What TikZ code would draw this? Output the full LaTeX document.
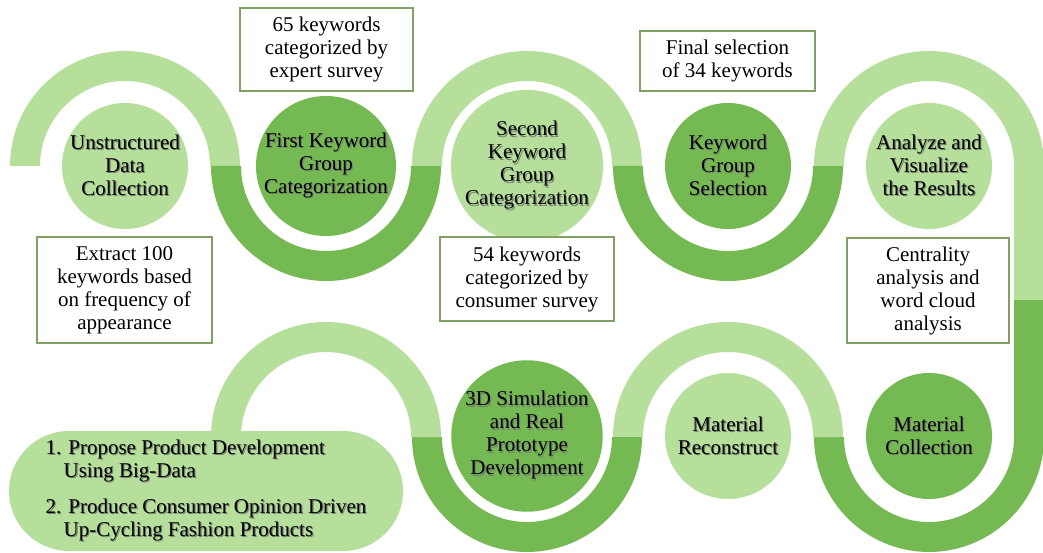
\documentclass[tikz,border=0pt]{standalone}
\usepackage{fontspec}
\setmainfont{Liberation Serif}
\definecolor{lightg}{RGB}{181,223,155}
\definecolor{darkg}{RGB}{117,185,82}
\definecolor{boxline}{RGB}{128,160,100}
\definecolor{txtshadow}{RGB}{60,75,50}
\newcommand\fs{\fontsize{21}{23}\selectfont}
% text with a soft drop shadow
\newcommand\sh[1]{\leavevmode\rlap{\kern1.2pt\raisebox{-1.2pt}{\color{txtshadow!70}#1}}#1}
% half rings of the path: centre x, centre y, colour
\newcommand\bandup[3]{\fill[#3] (#1-115,#2) arc[start angle=180,end angle=0,radius=115]
  -- (#1+85,#2) arc[start angle=0,end angle=180,radius=85] -- cycle;}
\newcommand\banddown[3]{\fill[#3] (#1-115,#2) arc[start angle=180,end angle=360,radius=115]
  -- (#1+85,#2) arc[start angle=360,end angle=180,radius=85] -- cycle;}
\tikzset{
  stage/.style={circle, minimum size=126pt, inner sep=0pt, align=center, font=\fs},
  lightstage/.style={stage, fill=lightg},
  darkstage/.style={stage, fill=darkg},
  note/.style={draw=boxline, line width=1.2pt, fill=white, align=center,
    inner sep=0pt, font=\fs},
  goalbox/.style={rectangle, rounded corners=60pt, fill=lightg, minimum width=394pt,
    minimum height=120pt, align=left, inner sep=0pt, font=\fs}
}
\begin{document}
\begin{tikzpicture}[x=1pt,y=1pt]
\useasboundingbox (0,0) rectangle (1043,552);
\begin{scope}
\clip (0,0) rectangle (1043,552);
% upper row of the winding path
\bandup{125}{386}{lightg}
\banddown{326}{386}{darkg}
\bandup{527}{386}{lightg}
\banddown{728}{386}{darkg}
\bandup{929}{386}{lightg}
% right-hand descent
\fill[lightg] (1014,386) rectangle (1044,252);
\fill[darkg] (1014,252) rectangle (1044,115);
% lower row, running back to the left
\banddown{929}{115}{darkg}
\bandup{728}{115}{lightg}
\banddown{527}{115}{darkg}
\bandup{326}{115}{lightg}
\end{scope}

% stages
\node[lightstage] (s1) at (125,386) {\sh{Unstructured}\\\sh{Data}\\\sh{Collection}};
\node[darkstage] (s2) at (326,386) {\sh{First Keyword}\\\sh{Group}\\\sh{Categorization}};
\node[lightstage] (s3) at (527,386) {\sh{Second}\\\sh{Keyword}\\\sh{Group}\\\sh{Categorization}};
\node[darkstage] (s4) at (728,386) {\sh{Keyword}\\\sh{Group}\\\sh{Selection}};
\node[lightstage] (s5) at (929,386) {\sh{Analyze and}\\\sh{Visualize}\\\sh{the Results}};
\node[darkstage] (s6) at (929,116) {\sh{Material}\\\sh{Collection}};
\node[lightstage] (s7) at (728,116) {\sh{Material}\\\sh{Reconstruct}};
\node[darkstage] (s8) at (527,116) {\sh{3D Simulation}\\\sh{and Real}\\\sh{Prototype}\\\sh{Development}};

% outcome
\node[goalbox] (goal) at (206,61) {\sh{1. Propose Product Development}\\
  \hspace*{18pt}\sh{Using Big-Data}\\[13pt]
  \sh{2. Produce Consumer Opinion Driven}\\
  \hspace*{18pt}\sh{Up-Cycling Fashion Products}};

% notes
\node[note, minimum width=173pt, minimum height=83pt] (n1) at (326.5,502.5)
  {65 keywords\\categorized by\\expert survey};
\node[note, minimum width=175pt, minimum height=60pt] (n2) at (727.5,491)
  {Final selection\\of 34 keywords};
\node[note, minimum width=175pt, minimum height=106pt] (n3) at (124.5,262)
  {Extract 100\\keywords based\\on frequency of\\appearance};
\node[note, minimum width=174pt, minimum height=84pt] (n4) at (527,273)
  {54 keywords\\categorized by\\consumer survey};
\node[note, minimum width=162pt, minimum height=105pt] (n5) at (928,261.5)
  {Centrality\\analysis and\\word cloud\\analysis};
\end{tikzpicture}
\end{document}
